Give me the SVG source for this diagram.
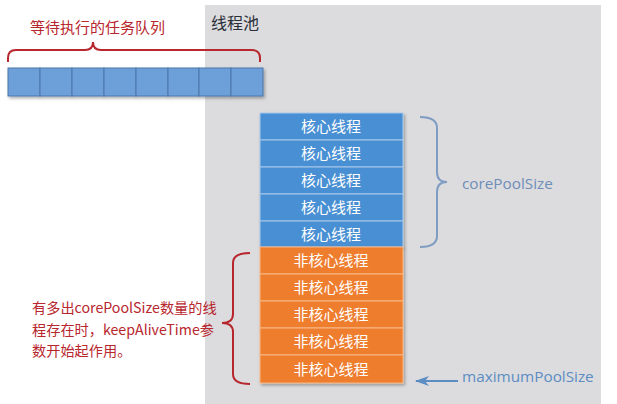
<svg xmlns="http://www.w3.org/2000/svg" width="617" height="404" viewBox="0 0 617 404">
<style>
.cjk{font-family:"Noto Sans CJK SC","Noto Sans",sans-serif}
.lat{font-family:"Open Sans","Noto Sans",sans-serif}
.cell{fill:#6d9fd8;stroke:#4a77aa;stroke-width:1}
.core rect{fill:#4a8fd3;stroke:#a9c8ea;stroke-width:1}
.non rect{fill:#ee7d2f;stroke:#f6b987;stroke-width:1}
.lbl{fill:#fff;font-size:15px;text-anchor:middle}
.red{fill:#b8262e}
.blue{fill:#6e8db8}
</style>
<defs>
<filter id="sh" x="-10%" y="-10%" width="130%" height="130%"><feDropShadow dx="1.5" dy="2" stdDeviation="1.5" flood-color="#000" flood-opacity="0.3"/></filter>
<marker id="ah" markerWidth="14" markerHeight="10" refX="13" refY="5" orient="auto" markerUnits="userSpaceOnUse"><path d="M0,0 L14,5 L0,10 L4,5 Z" fill="#5b8cc4"/></marker>
</defs>
<rect width="617" height="404" fill="#fff"/>
<g id="pool"><rect x="205" y="5" width="396" height="399" fill="#dcdcde"/>
<text x="211" y="29" class="cjk" font-size="16" fill="#2b2f3a">线程池</text></g>
<g id="queue-label"><text x="30" y="33" class="cjk red" font-size="15">等待执行的任务队列</text></g>
<g id="queue" filter="url(#sh)">
<rect class="cell" x="8" y="68" width="32" height="28"/><rect class="cell" x="40" y="68" width="32" height="28"/><rect class="cell" x="72" y="68" width="32" height="28"/><rect class="cell" x="104" y="68" width="32" height="28"/><rect class="cell" x="136" y="68" width="32" height="28"/><rect class="cell" x="168" y="68" width="31" height="28"/><rect class="cell" x="199" y="68" width="32" height="28"/><rect class="cell" x="231" y="68" width="32" height="28"/>
</g>
<g id="core-threads" class="core" filter="url(#sh)">
<rect x="260" y="113" width="143" height="27"/><rect x="260" y="140" width="143" height="27"/><rect x="260" y="167" width="143" height="27"/><rect x="260" y="194" width="143" height="27"/><rect x="260" y="221" width="143" height="26"/>
</g>
<g id="core-labels" class="cjk lbl">
<text x="331" y="132">核心线程</text><text x="331" y="159">核心线程</text><text x="331" y="186">核心线程</text><text x="331" y="213">核心线程</text><text x="331" y="239.5">核心线程</text>
</g>
<g id="noncore-threads" class="non" filter="url(#sh)">
<rect x="260" y="247" width="143" height="27"/><rect x="260" y="274" width="143" height="27"/><rect x="260" y="301" width="143" height="27"/><rect x="260" y="328" width="143" height="27"/><rect x="260" y="355" width="143" height="28"/>
</g>
<g id="noncore-labels" class="cjk lbl">
<text x="331" y="266">非核心线程</text><text x="331" y="293">非核心线程</text><text x="331" y="320">非核心线程</text><text x="331" y="347">非核心线程</text><text x="331" y="374.5">非核心线程</text>
</g>
<g id="connectors" fill="none">
<path d="M8,62 L8,58 Q8,50 16,50 L85,50 Q93,50 93,42 Q93,50 101,50 L252,50 Q260,50 260,58 L260,62" stroke="#b8262e" stroke-width="2"/>
<path d="M420,117 Q437,117 437,128 L437,172 Q437,182 447,182 Q437,182 437,192 L437,236 Q437,247 420,247" stroke="#7f9cc3" stroke-width="2"/>
<path d="M250,253 Q233,253 233,263 L233,314 Q233,323 222,323 Q233,323 233,332 L233,374 Q233,384 250,384" stroke="#b8262e" stroke-width="2"/>
<line x1="458" y1="381" x2="416" y2="381" stroke="#5b8cc4" stroke-width="2" marker-end="url(#ah)"/>
</g>
<g id="core-size"><text x="462" y="189" class="lat blue" font-size="15.3">corePoolSize</text></g>
<g id="max-size"><text x="462" y="382" class="lat" font-size="15.3" fill="#5b8cc4">maximumPoolSize</text></g>
<g id="note" class="cjk red" font-size="14.2">
<text x="32" y="313">有多出corePoolSize数量的线</text>
<text x="32" y="335">程存在时，keepAliveTime参</text>
<text x="32" y="356">数开始起作用。</text>
</g>
</svg>
